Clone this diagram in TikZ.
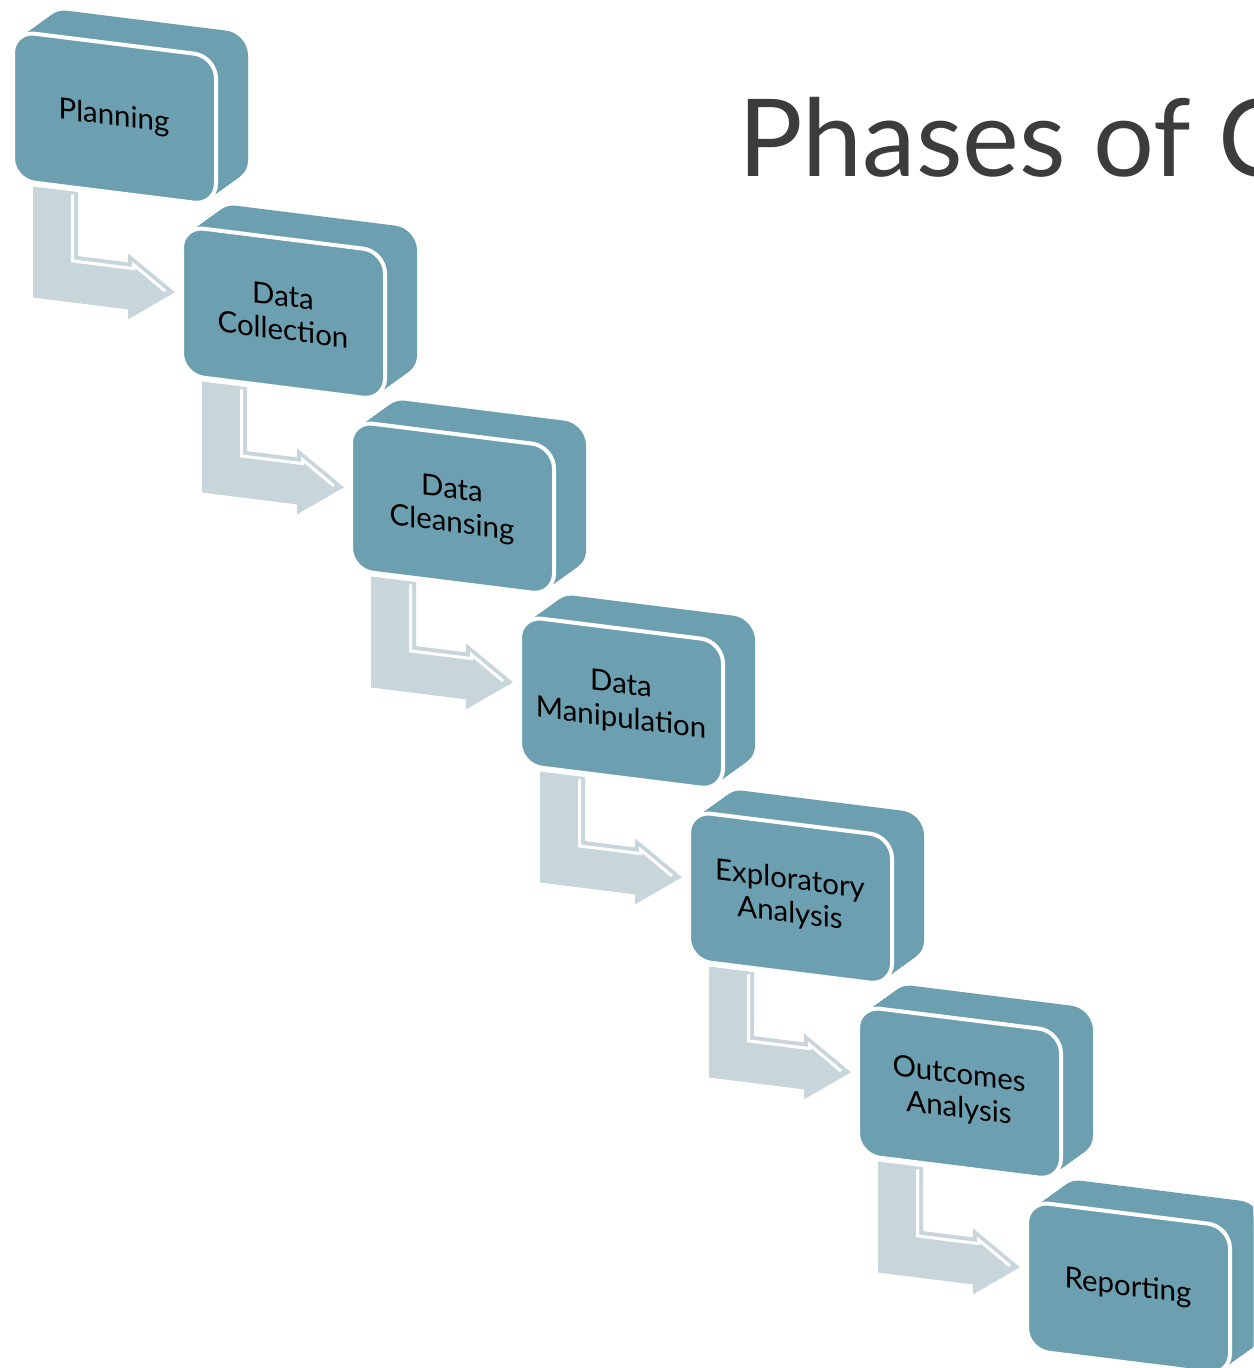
\documentclass[tikz,border=0pt]{standalone}
\usepackage{fontspec}
\setmainfont{Lato}
\definecolor{boxcol}{RGB}{108,159,175}
\definecolor{arrcol}{RGB}{200,214,220}
\definecolor{titlecol}{RGB}{60,60,60}
\begin{document}
\begin{tikzpicture}[x=1bp,y=-1bp,
  boxside/.style={fill=boxcol, rounded corners=22bp},
  boxfront/.style={fill=boxcol, draw=white, line width=4bp, rounded corners=22bp},
  flowarrow/.style={fill=arrcol},
  bevel/.style={draw=white, line width=3bp},
  phasetext/.style={transform shape, align=center, font=\fontsize{29.5}{34}\selectfont, text=black, inner sep=0pt},
  headline/.style={anchor=base west, inner sep=0pt, font=\fontsize{108}{120}\selectfont}]
\useasboundingbox (0,0) rectangle (1253,1368);
\clip (0,0) rectangle (1253,1368);
\fill[white] (0,0) rectangle (1253,1368);
% title
\node[headline, text=titlecol] (title) at (738,177) {Phases of C};
% phases
\foreach \i/\txt in {0/Planning, 1/{Data\\Collection}, 2/{Data\\Cleansing}, 3/{Data\\Manipulation}, 4/{Exploratory\\Analysis}, 5/{Outcomes\\Analysis}, 6/Reporting}{
  \begin{scope}[shift={(13+169*\i,31+195*\i)}, yslant=-0.125]
    \foreach \t in {32,31,...,1}{
      \fill[boxside] ({\t},{-27*\t/32}) rectangle ++(203,149);
    }
    \draw[boxfront] (0,0) rectangle (203,149);
    \node[phasetext] (p\i) at (101,74) {\txt};
    \ifnum\i<6
      \fill[flowarrow] (20,153) -- (65,153) -- (65,217) -- (115,217) -- (115,208)
        -- (162,241) -- (115,274) -- (115,264) -- (20,264) -- cycle;
      \draw[bevel] (59.5,156) -- (59.5,222.5) -- (120.5,222.5) -- (120.5,218.6) -- (152,241);
    \fi
  \end{scope}
}
\end{tikzpicture}
\end{document}
